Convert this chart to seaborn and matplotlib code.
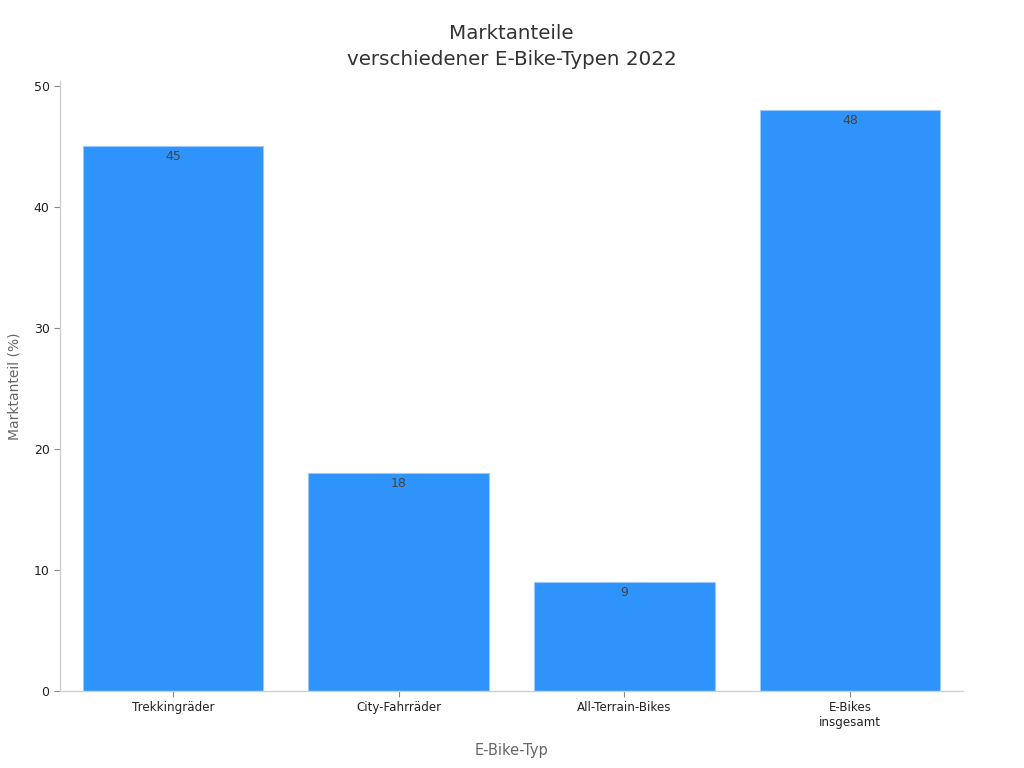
import matplotlib
matplotlib.use('Agg')
import matplotlib.pyplot as plt
import seaborn as sns
import pandas as pd

# Daten
typen = ['Trekkingräder', 'City-Fahrräder', 'All-Terrain-Bikes', 'E-Bikes\ninsgesamt']
anteile = [45, 18, 9, 48]

df = pd.DataFrame({'typ': typen, 'anteil': anteile})

sns.set_style('white')
plt.rcParams['font.family'] = ['DejaVu Sans']

fig = plt.figure(figsize=(10.24, 7.68), dpi=100)
ax = fig.add_axes([0.0586, 0.1003, 0.8816, 0.7942])

sns.barplot(data=df, x='typ', y='anteil', color='#2E93FA', saturation=1,
            width=0.8, edgecolor='#9cc9f7', linewidth=0.8, ax=ax)

for p, v in zip(ax.patches, anteile):
    ax.annotate(str(v), (p.get_x() + p.get_width() / 2, p.get_height()),
                xytext=(0, -7.5), textcoords='offset points',
                ha='center', va='center', fontsize=9, color='#444444')

ax.set_ylim(0, 50.4)
ax.set_xlim(-0.5, 3.5)
ax.set_yticks([0, 10, 20, 30, 40, 50])

ax.set_title('Marktanteile\nverschiedener E-Bike-Typen 2022', fontsize=14.3,
             color='#333333', pad=11.5, linespacing=1.45)
ax.set_xlabel('E-Bike-Typ', fontsize=10.5, color='#666666', labelpad=9.5)
ax.set_ylabel('Marktanteil (%)', fontsize=10, color='#666666', labelpad=9)

sns.despine(ax=ax)
for s in ['left', 'bottom']:
    ax.spines[s].set_color('#d0d0d0')
    ax.spines[s].set_linewidth(1)
ax.tick_params(axis='both', which='both', length=4, color='#888888',
               labelsize=9, labelcolor='#222222', bottom=True, left=True)
ax.tick_params(axis='x', labelsize=8.6)

fig.savefig('out.png', dpi=100)
